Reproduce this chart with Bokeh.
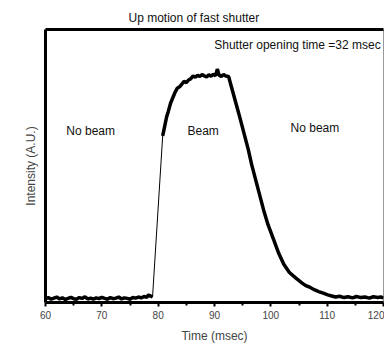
from bokeh.plotting import figure
from bokeh.models import Range1d, LinearAxis, Label, FixedTicker
from bokeh.embed import file_html
from bokeh.resources import INLINE

# time (msec) and intensity (A.U.)
time_ms = [60.0, 60.5, 61.0, 61.5, 62.0, 62.5, 63.0, 63.5, 64.0, 64.5,
           65.0, 65.5, 66.0, 66.5, 67.0, 67.5, 68.0, 68.5, 69.0, 69.5,
           70.0, 70.5, 71.0, 71.5, 72.0, 72.5, 73.0, 73.5, 74.0, 74.5,
           75.0, 75.5, 76.0, 76.5, 77.0, 77.5, 78.0, 78.3, 78.6, 79.0,
           80.8, 81.2, 81.5, 81.8, 82.2, 82.6, 83.0, 83.4, 83.8, 84.2,
           84.6, 85.0, 85.4, 85.8, 86.2, 86.6, 87.0, 87.4, 87.8, 88.2,
           88.6, 89.0, 89.4, 89.8, 90.2, 90.5, 90.8, 91.2, 91.6, 92.0,
           92.5, 93.0, 93.4, 94.0, 94.6, 95.3, 96.0, 96.6, 97.3, 98.0,
           98.7, 99.5, 100.5, 101.4, 102.3, 103.3, 104.4, 105.5, 106.2, 107.0,
           107.8, 108.5, 109.3, 110.1, 110.8, 111.5, 112.2, 113.0, 113.7, 114.5,
           115.2, 116.0, 116.7, 117.5, 118.2, 119.0, 119.5, 120.0]
intensity = [0.014, 0.018, 0.012, 0.016, 0.020, 0.013, 0.017, 0.011, 0.015, 0.019,
             0.014, 0.012, 0.018, 0.015, 0.021, 0.013, 0.016, 0.012, 0.017, 0.014,
             0.019, 0.015, 0.012, 0.018, 0.014, 0.016, 0.020, 0.013, 0.017, 0.015,
             0.012, 0.018, 0.016, 0.020, 0.017, 0.022, 0.019, 0.028, 0.024, 0.020,
             0.610, 0.650, 0.680, 0.700, 0.730, 0.750, 0.770, 0.785, 0.790, 0.800,
             0.810, 0.805, 0.815, 0.820, 0.830, 0.825, 0.832, 0.828, 0.835, 0.830,
             0.826, 0.834, 0.829, 0.836, 0.831, 0.855, 0.833, 0.828, 0.835, 0.830,
             0.828, 0.790, 0.760, 0.715, 0.670, 0.615, 0.560, 0.505, 0.450, 0.395,
             0.340, 0.285, 0.230, 0.180, 0.140, 0.110, 0.090, 0.072, 0.062, 0.055,
             0.046, 0.040, 0.034, 0.028, 0.024, 0.020, 0.023, 0.018, 0.021, 0.017,
             0.022, 0.018, 0.020, 0.016, 0.021, 0.018, 0.020, 0.017]

title_text = "Up motion of fast shutter"
x_label = "Time (msec)"
y_label = "Intensity (A.U.)"
x_ticks = [60, 70, 80, 90, 100, 110, 120]
notes = ["No beam", "Beam", "No beam"]
note_x = [63.7, 85.2, 103.5]
note_y = [0.63, 0.63, 0.64]
info_text = "Shutter opening time =32 msec"

FONT = "Liberation Sans"

p = figure(width=384, height=345, output_backend="svg", toolbar_location=None,
           x_range=Range1d(60, 120), y_range=Range1d(0, 1),
           x_axis_location=None, y_axis_location=None,
           min_border_left=45, min_border_right=1, min_border_top=29,
           min_border_bottom=43)
p.background_fill_color = "white"
p.border_fill_color = "white"
p.grid.visible = False
p.outline_line_color = "#999999"
p.outline_line_width = 1

p.title.text = title_text
p.title.text_font = FONT
p.title.text_font_size = "12px"
p.title.text_font_style = "normal"
p.title.align = "left"
p.title.offset = 83
p.title.text_color = "#111111"

xaxis = LinearAxis(axis_label=x_label, ticker=FixedTicker(ticks=x_ticks, minor_ticks=[65, 75, 85, 95, 105, 115]))
xaxis.axis_line_width = 3
xaxis.major_tick_line_width = 2
xaxis.major_tick_out = 4
xaxis.major_tick_in = 0
xaxis.minor_tick_line_width = 2
xaxis.minor_tick_out = 3
xaxis.minor_tick_in = 0
xaxis.major_label_text_font = FONT
xaxis.major_label_text_font_size = "10px"
xaxis.major_label_standoff = 4
xaxis.axis_label_text_font = FONT
xaxis.axis_label_text_font_size = "12px"
xaxis.axis_label_text_font_style = "normal"
xaxis.axis_label_standoff = 7
p.add_layout(xaxis, "below")

yaxis = LinearAxis(axis_label=y_label, ticker=FixedTicker(ticks=[]))
yaxis.axis_line_width = 3
yaxis.major_tick_line_color = None
yaxis.minor_tick_line_color = None
yaxis.major_label_text_font_size = "0px"
yaxis.axis_label_text_font = FONT
yaxis.axis_label_text_font_size = "12px"
yaxis.axis_label_text_font_style = "normal"
yaxis.axis_label_standoff = 8
p.add_layout(yaxis, "left")

top = LinearAxis(ticker=FixedTicker(ticks=[]))
top.axis_line_width = 3
top.major_tick_line_color = None
top.minor_tick_line_color = None
top.major_label_text_font_size = "0px"
p.add_layout(top, "above")

# thin full trace, then thick noisy band where samples are dense
p.line(time_ms, intensity, line_color="black", line_width=1)
rise_i = time_ms.index(79.0)
p.line(time_ms[:rise_i + 1], intensity[:rise_i + 1], line_color="black", line_width=3.5)
p.line(time_ms[rise_i + 1:], intensity[rise_i + 1:], line_color="black", line_width=3.5)

for t, x, y in zip(notes, note_x, note_y):
    p.add_layout(Label(x=x, y=y, text=t, text_font=FONT, text_font_size="12px",
                       text_baseline="middle", text_color="#111111"))
p.add_layout(Label(x=119.5, y=0.945, text=info_text, text_font=FONT, text_font_size="12px",
                   text_align="right", text_baseline="middle", text_color="#111111"))

open("out.html", "w").write(file_html(p, INLINE))
